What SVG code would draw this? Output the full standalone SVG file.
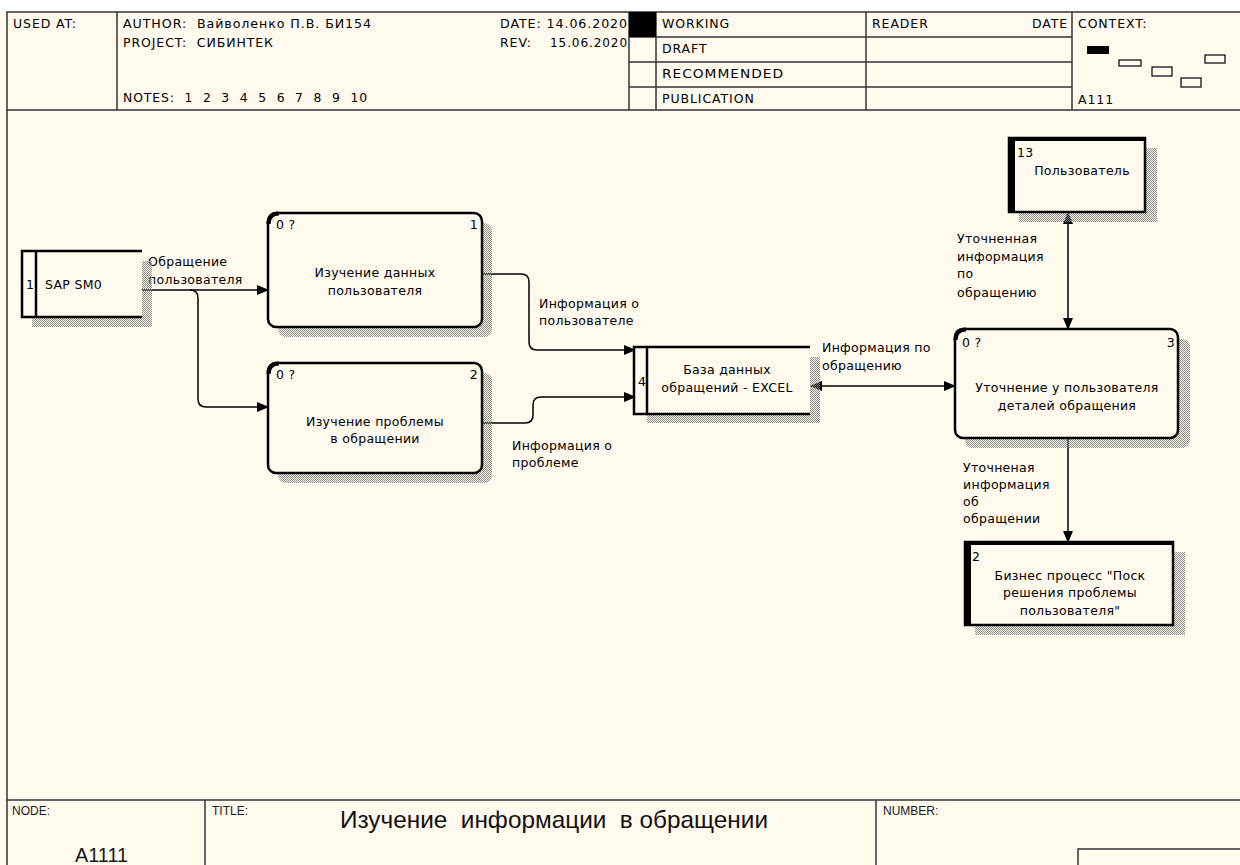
<svg xmlns="http://www.w3.org/2000/svg" width="1240" height="865" viewBox="0 0 1240 865">
<style>
.bg{fill:#FFF9EE}
.frame{fill:none;stroke:#333;stroke-width:1.5}
.h{font-family:"DejaVu Sans",sans-serif;font-size:12.5px;letter-spacing:0.9px;fill:#000;white-space:pre}
.n{font-family:"DejaVu Sans",sans-serif;font-size:12.5px;letter-spacing:0.3px;fill:#000}
.nm{text-anchor:middle}
.f{font-family:"Liberation Sans",Arial,sans-serif;font-size:12px;fill:#1a1a1a}
.title{font-family:"Liberation Sans",Arial,sans-serif;font-size:24px;fill:#111;white-space:pre}
.box{fill:#FFF9EE;stroke:#000;stroke-width:2.5}
.shadow{fill:url(#hatch)}
.conn{fill:none;stroke:#000;stroke-width:1.5}
.thick{fill:#000}
</style>
<defs>
<pattern id="hatch" width="2" height="2" patternUnits="userSpaceOnUse">
<rect x="0" y="0" width="1" height="1" fill="#8a8a8a"/>
<rect x="1" y="1" width="1" height="1" fill="#8a8a8a"/>
</pattern>
<marker id="arr" markerWidth="12" markerHeight="10" refX="11" refY="5" orient="auto-start-reverse" markerUnits="userSpaceOnUse">
<path d="M0,0 L12,5 L0,10 z" fill="#000"/>
</marker>
</defs>
<rect x="0" y="0" width="1240" height="865" class="bg"/>
<rect x="0" y="0" width="1240" height="12" fill="#ffffff"/>

<g id="header">
<rect x="7" y="12" width="1240" height="98" class="frame"/>
<line x1="117" y1="12" x2="117" y2="110" class="frame"/>
<line x1="629" y1="12" x2="629" y2="110" class="frame"/>
<line x1="656" y1="12" x2="656" y2="110" class="frame"/>
<line x1="866" y1="12" x2="866" y2="110" class="frame"/>
<line x1="1072" y1="12" x2="1072" y2="110" class="frame"/>
<line x1="629" y1="37" x2="1072" y2="37" class="frame"/>
<line x1="629" y1="62" x2="1072" y2="62" class="frame"/>
<line x1="629" y1="87" x2="1072" y2="87" class="frame"/>
<rect x="629" y="12" width="27" height="25" fill="#000"/>
<text x="13" y="28" class="h">USED AT:</text>
<text x="123" y="28" class="h" textLength="249" lengthAdjust="spacingAndGlyphs">AUTHOR:  Вайволенко П.В. БИ154</text>
<text x="123" y="47" class="h">PROJECT:  СИБИНТЕК</text>
<text x="123" y="102" class="h" textLength="245" lengthAdjust="spacingAndGlyphs">NOTES:  1  2  3  4  5  6  7  8  9  10</text>
<text x="500" y="28" class="h" textLength="128" lengthAdjust="spacingAndGlyphs">DATE: 14.06.2020</text>
<text x="500" y="47" class="h">REV:</text>
<text x="550" y="47" class="h" textLength="78" lengthAdjust="spacingAndGlyphs">15.06.2020</text>
<text x="662" y="28" class="h">WORKING</text>
<text x="662" y="53" class="h">DRAFT</text>
<text x="662" y="78" class="h" textLength="122" lengthAdjust="spacingAndGlyphs">RECOMMENDED</text>
<text x="662" y="103" class="h">PUBLICATION</text>
<text x="872" y="28" class="h">READER</text>
<text x="1068" y="28" class="h" text-anchor="end">DATE</text>
<text x="1078" y="28" class="h">CONTEXT:</text>
<text x="1078" y="104" class="h">A111</text>
<rect x="1087" y="46" width="22" height="8" fill="#000"/>
<rect x="1119" y="60" width="22" height="6" fill="none" stroke="#000" stroke-width="1.2"/>
<rect x="1152" y="67" width="20" height="9" fill="none" stroke="#000" stroke-width="1.2"/>
<rect x="1181" y="78" width="20" height="9" fill="none" stroke="#000" stroke-width="1.2"/>
<rect x="1205" y="55" width="20" height="8" fill="none" stroke="#000" stroke-width="1.2"/>
</g>

<g id="frame-body">
<line x1="7" y1="110" x2="7" y2="865" class="frame"/>
</g>

<g id="footer">
<line x1="7" y1="800" x2="1240" y2="800" class="frame"/>
<line x1="205" y1="800" x2="205" y2="865" class="frame"/>
<line x1="876" y1="800" x2="876" y2="865" class="frame"/>
<rect x="1078" y="849" width="170" height="30" class="frame"/>
<text x="12" y="815" class="f">NODE:</text>
<text x="212" y="815" class="f">TITLE:</text>
<text x="883" y="815" class="f">NUMBER:</text>
<text x="75" y="862" class="f" style="font-size:20px" textLength="53" lengthAdjust="spacingAndGlyphs">A1111</text>
<text x="340" y="828" class="title" textLength="428" lengthAdjust="spacingAndGlyphs">Изучение  информации  в обращении</text>
</g>

<g id="connectors">
<path d="M142,290 H268" class="conn" marker-end="url(#arr)"/>
<path d="M190,290 Q198,290 198,298 V399 Q198,407 206,407 H268" class="conn" marker-end="url(#arr)"/>
<path d="M482,274 H521 Q529,274 529,282 V342 Q529,350 537,350 H635" class="conn" marker-end="url(#arr)"/>
<path d="M482,423 H525 Q533,423 533,415 V405 Q533,397 541,397 H635" class="conn" marker-end="url(#arr)"/>
<path d="M811,386 H955" class="conn" marker-start="url(#arr)" marker-end="url(#arr)"/>
<path d="M1068,213 V329" class="conn" marker-start="url(#arr)" marker-end="url(#arr)"/>
<path d="M1068,439 V542" class="conn" marker-end="url(#arr)"/>
<text x="148" y="266" class="n">Обращение</text>
<text x="148" y="284" class="n">пользователя</text>
<text x="539" y="308" class="n">Информация о</text>
<text x="539" y="325" class="n">пользователе</text>
<text x="512" y="450" class="n">Информация о</text>
<text x="512" y="467" class="n">проблеме</text>
<text x="822" y="352" class="n">Информация по</text>
<text x="822" y="370" class="n">обращению</text>
<text x="957" y="243" class="n">Уточненная</text>
<text x="957" y="261" class="n">информация</text>
<text x="957" y="278" class="n">по</text>
<text x="957" y="297" class="n">обращению</text>
<text x="963" y="472" class="n">Уточненая</text>
<text x="963" y="489" class="n">информация</text>
<text x="963" y="506" class="n">об</text>
<text x="963" y="523" class="n">обращении</text>
</g>

<g id="node-sap">
<rect x="32" y="261" width="120" height="66" class="shadow"/>
<rect x="22" y="251" width="120" height="66" fill="#FFF9EE"/>
<path d="M142,251 H22 V317 H142" fill="none" stroke="#000" stroke-width="2.5"/>
<line x1="36" y1="251" x2="36" y2="317" stroke="#000" stroke-width="2.5"/>
<text x="26" y="289" class="n">1</text>
<text x="45" y="289" class="n">SAP SM0</text>
</g>

<g id="node-a1">
<rect x="278" y="223" width="214" height="114" rx="8" class="shadow"/>
<rect x="268" y="213" width="214" height="114" rx="8" class="box"/>
<path d="M268.5,224 Q268.5,213.5 279,213.5" fill="none" stroke="#000" stroke-width="4"/>
<text x="276" y="229" class="n">0 ?</text>
<text x="478" y="229" class="n" text-anchor="end">1</text>
<text x="375" y="277" class="n nm">Изучение данных</text>
<text x="375" y="295" class="n nm">пользователя</text>
</g>

<g id="node-a2">
<rect x="278" y="373" width="214" height="110" rx="8" class="shadow"/>
<rect x="268" y="363" width="214" height="110" rx="8" class="box"/>
<path d="M268.5,374 Q268.5,363.5 279,363.5" fill="none" stroke="#000" stroke-width="4"/>
<text x="276" y="379" class="n">0 ?</text>
<text x="478" y="379" class="n" text-anchor="end">2</text>
<text x="375" y="426" class="n nm">Изучение проблемы</text>
<text x="375" y="443" class="n nm">в обращении</text>
</g>

<g id="node-db">
<rect x="647" y="357" width="173" height="66" class="shadow"/>
<rect x="634" y="347" width="176" height="67" fill="#FFF9EE"/>
<path d="M810,347 H634 V414 H810" fill="none" stroke="#000" stroke-width="2.5"/>
<line x1="647" y1="347" x2="647" y2="414" stroke="#000" stroke-width="2.5"/>
<text x="638" y="386" class="n">4</text>
<text x="727" y="374" class="n nm">База данных</text>
<text x="727" y="392" class="n nm">обращений - EXCEL</text>
</g>

<g id="node-a3">
<rect x="965" y="339" width="225" height="109" rx="8" class="shadow"/>
<rect x="955" y="329" width="223" height="109" rx="8" class="box"/>
<path d="M955.5,340 Q955.5,329.5 966,329.5" fill="none" stroke="#000" stroke-width="4"/>
<text x="962" y="347" class="n">0 ?</text>
<text x="1175" y="347" class="n" text-anchor="end">3</text>
<text x="1067" y="392" class="n nm">Уточнение у пользователя</text>
<text x="1067" y="410" class="n nm">деталей обращения</text>
</g>

<g id="node-user">
<rect x="1019" y="148" width="138" height="74" class="shadow"/>
<rect x="1009" y="138" width="136" height="74" class="box"/>
<rect x="1008" y="137" width="7" height="76" class="thick"/>
<rect x="1008" y="137" width="138" height="4" class="thick"/>
<text x="1017" y="157" class="n">13</text>
<text x="1082" y="175" class="n nm">Пользователь</text>
</g>

<g id="node-biz">
<rect x="975" y="552" width="210" height="83" class="shadow"/>
<rect x="965" y="542" width="208" height="83" class="box"/>
<rect x="964" y="541" width="7" height="85" class="thick"/>
<rect x="964" y="541" width="210" height="4" class="thick"/>
<text x="972" y="561" class="n">2</text>
<text x="1070" y="580" class="n nm">Бизнес процесс "Поск</text>
<text x="1070" y="597" class="n nm">решения проблемы</text>
<text x="1070" y="615" class="n nm">пользователя"</text>
</g>
</svg>
